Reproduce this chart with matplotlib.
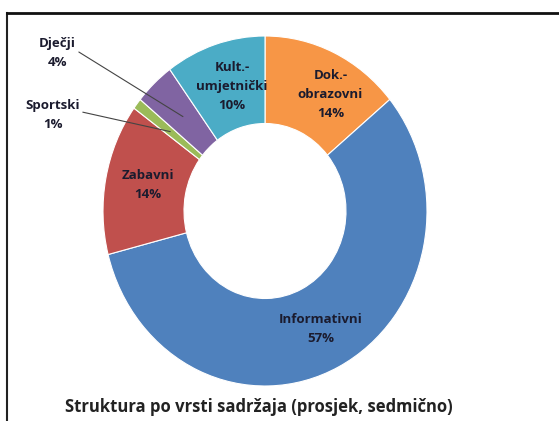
import numpy as np
import matplotlib.pyplot as plt
from matplotlib.lines import Line2D

kategorije = ['Dok.-\nobrazovni', 'Informativni', 'Zabavni', 'Sportski', 'Dječji', 'Kult.-\numjetnički']
udjeli = [14, 57, 14, 1, 4, 10]
boje = ['#F79646', '#4F81BD', '#C0504D', '#9BBB59', '#8064A2', '#4BACC6']
naslov = 'Struktura po vrsti sadržaja (prosjek, sedmično)'

plt.rcParams['font.family'] = ['Open Sans', 'DejaVu Sans']

fig = plt.figure(figsize=(5.59, 4.21), dpi=100)
# donut: centar ~ (265, 211) px, radijus ~162 px vodoravno, ~175 px okomito
W, H = 559, 421
cx, cy, rx, ry = 265, 211, 162, 175
lim = 1.2
ax = fig.add_axes([(cx - lim * rx) / W, (H - cy - lim * ry) / H, 2 * lim * rx / W, 2 * lim * ry / H])

wedges, _ = ax.pie(udjeli, colors=boje, startangle=90, counterclock=False,
                   wedgeprops=dict(width=0.5, edgecolor='white', linewidth=0.8))
ax.set_aspect('auto')
ax.set_xlim(-lim, lim)
ax.set_ylim(-lim, lim)

txt = dict(ha='center', va='center', fontsize=9.5, fontweight='bold', color='#1b1b2e',
           linespacing=1.6)

# oznake unutar prstena (radijus, pomak kuta u stupnjevima)
unutra = {0: (0.78, -6), 1: (0.755, 0), 2: (0.74, -1), 5: (0.74, -2)}
for i, (r, da) in unutra.items():
    w = wedges[i]
    a = np.deg2rad((w.theta1 + w.theta2) / 2 + da)
    ax.text(r * np.cos(a), r * np.sin(a), f'{kategorije[i]}\n{udjeli[i]}%', **txt)

# oznake izvan prstena s linijama
vani = {4: (-1.28, 0.9), 3: (-1.31, 0.55)}
for i, (tx, ty) in vani.items():
    w = wedges[i]
    a = np.deg2rad((w.theta1 + w.theta2) / 2)
    px, py = 0.74 * np.cos(a), 0.74 * np.sin(a)
    ax.annotate(f'{kategorije[i]}\n{udjeli[i]}%', xy=(px, py), xytext=(tx, ty),
                arrowprops=dict(arrowstyle='-', color='#444444', lw=0.8,
                                shrinkA=0, shrinkB=0, relpos=(1.0, 0.6)),
                annotation_clip=False, **txt)

fig.text(259 / W, 1 - 407 / H, naslov, ha='center', va='center', fontsize=12,
         fontweight='bold', color='#222222')

# okvir
fig.add_artist(Line2D([6.5 / W, 6.5 / W], [0, 1 - 13 / H], color='#222222', lw=1.5))
fig.add_artist(Line2D([6.5 / W, 1], [1 - 13 / H, 1 - 13 / H], color='#111111', lw=2))

fig.savefig('out.png', dpi=100)
